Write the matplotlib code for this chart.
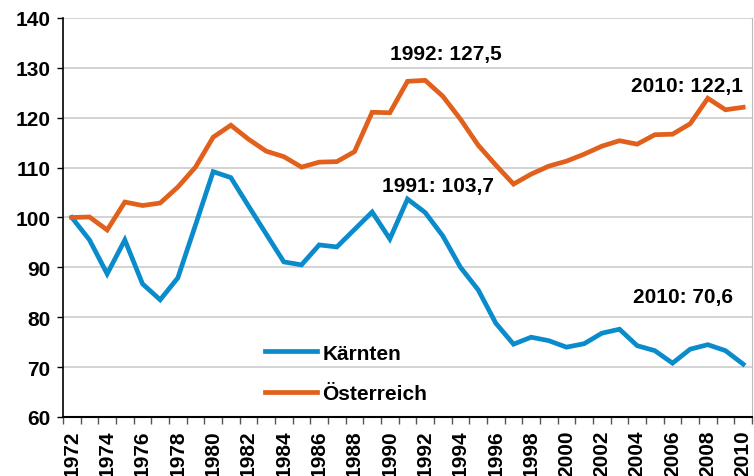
import matplotlib
matplotlib.use("Agg")
import matplotlib.pyplot as plt
from matplotlib.ticker import FixedLocator

years = list(range(1972, 2011))
kaernten = [100.0, 95.5, 88.7, 95.5, 86.7, 83.5, 87.9, 98.5, 109.2, 108.0,
            102.3, 96.7, 91.1, 90.5, 94.5, 94.1, 97.6, 101.1, 95.7, 103.7,
            101.0, 96.3, 90.0, 85.5, 78.8, 74.6, 76.0, 75.3, 74.0, 74.7,
            76.8, 77.6, 74.3, 73.3, 70.8, 73.6, 74.5, 73.3, 70.6]
oesterreich = [100.0, 100.1, 97.5, 103.1, 102.4, 102.9, 106.1, 110.1, 116.1, 118.5,
               115.7, 113.3, 112.2, 110.1, 111.1, 111.2, 113.2, 121.1, 121.0, 127.3,
               127.5, 124.3, 119.7, 114.5, 110.5, 106.7, 108.7, 110.3, 111.3, 112.7,
               114.3, 115.4, 114.7, 116.6, 116.7, 118.8, 123.9, 121.6, 122.1]
labels = ["Kärnten", "Österreich"]
annotations = [("1992: 127,5", 1993.2, 132.8), ("2010: 122,1", 2006.8, 126.4),
               ("1991: 103,7", 1992.7, 106.5), ("2010: 70,6", 2006.6, 84.1)]

blue = "#0A8BCB"
orange = "#E1601B"
fs = 15

plt.rcParams['font.family'] = ["Liberation Sans", "DejaVu Sans"]
fig = plt.figure(figsize=(7.54, 4.77), dpi=100)
ax = fig.add_axes([63/754, 59/477, 689/754, 399/477])

ax.plot(years, kaernten, color=blue, lw=3.4, label=labels[0], solid_joinstyle='miter')
ax.plot(years, oesterreich, color=orange, lw=3.4, label=labels[1], solid_joinstyle='miter')

ax.set_xlim(1971.5, 2010.5)
ax.set_ylim(60, 140)
ax.set_yticks(range(60, 141, 10))
ax.yaxis.grid(True, color="#CCCCCC", lw=1.2)
ax.set_axisbelow(True)
ax.tick_params(axis='y', labelsize=fs, length=4, width=1, pad=5)
for t in ax.get_yticklabels():
    t.set_fontweight('bold')

ax.set_xticks(range(1972, 2011, 2))
ax.set_xticklabels([str(y) for y in range(1972, 2011, 2)], rotation=90,
                   fontsize=fs, fontweight='bold')
ax.xaxis.set_minor_locator(FixedLocator([y + 0.5 for y in range(1971, 2011)]))
ax.tick_params(axis='x', which='major', length=0, pad=9)
ax.tick_params(axis='x', which='minor', length=5, width=1, color="#555555")

ax.spines['top'].set_visible(False)
ax.spines['right'].set_color("#BBBBBB")
ax.spines['left'].set_color("black")
ax.spines['bottom'].set_color("black")
ax.spines['left'].set_linewidth(1.2)
ax.spines['bottom'].set_linewidth(1.5)

for txt, x, y in annotations:
    ax.text(x, y, txt, fontsize=fs, fontweight='bold', ha='center', va='center')

leg = ax.legend(loc='upper left', bbox_to_anchor=(0.281, 0.205), frameon=False,
                prop={'size': fs, 'weight': 'bold'}, handlelength=2.5,
                handletextpad=0.25, labelspacing=1.05, borderaxespad=0)

fig.savefig("out.png", dpi=100)
